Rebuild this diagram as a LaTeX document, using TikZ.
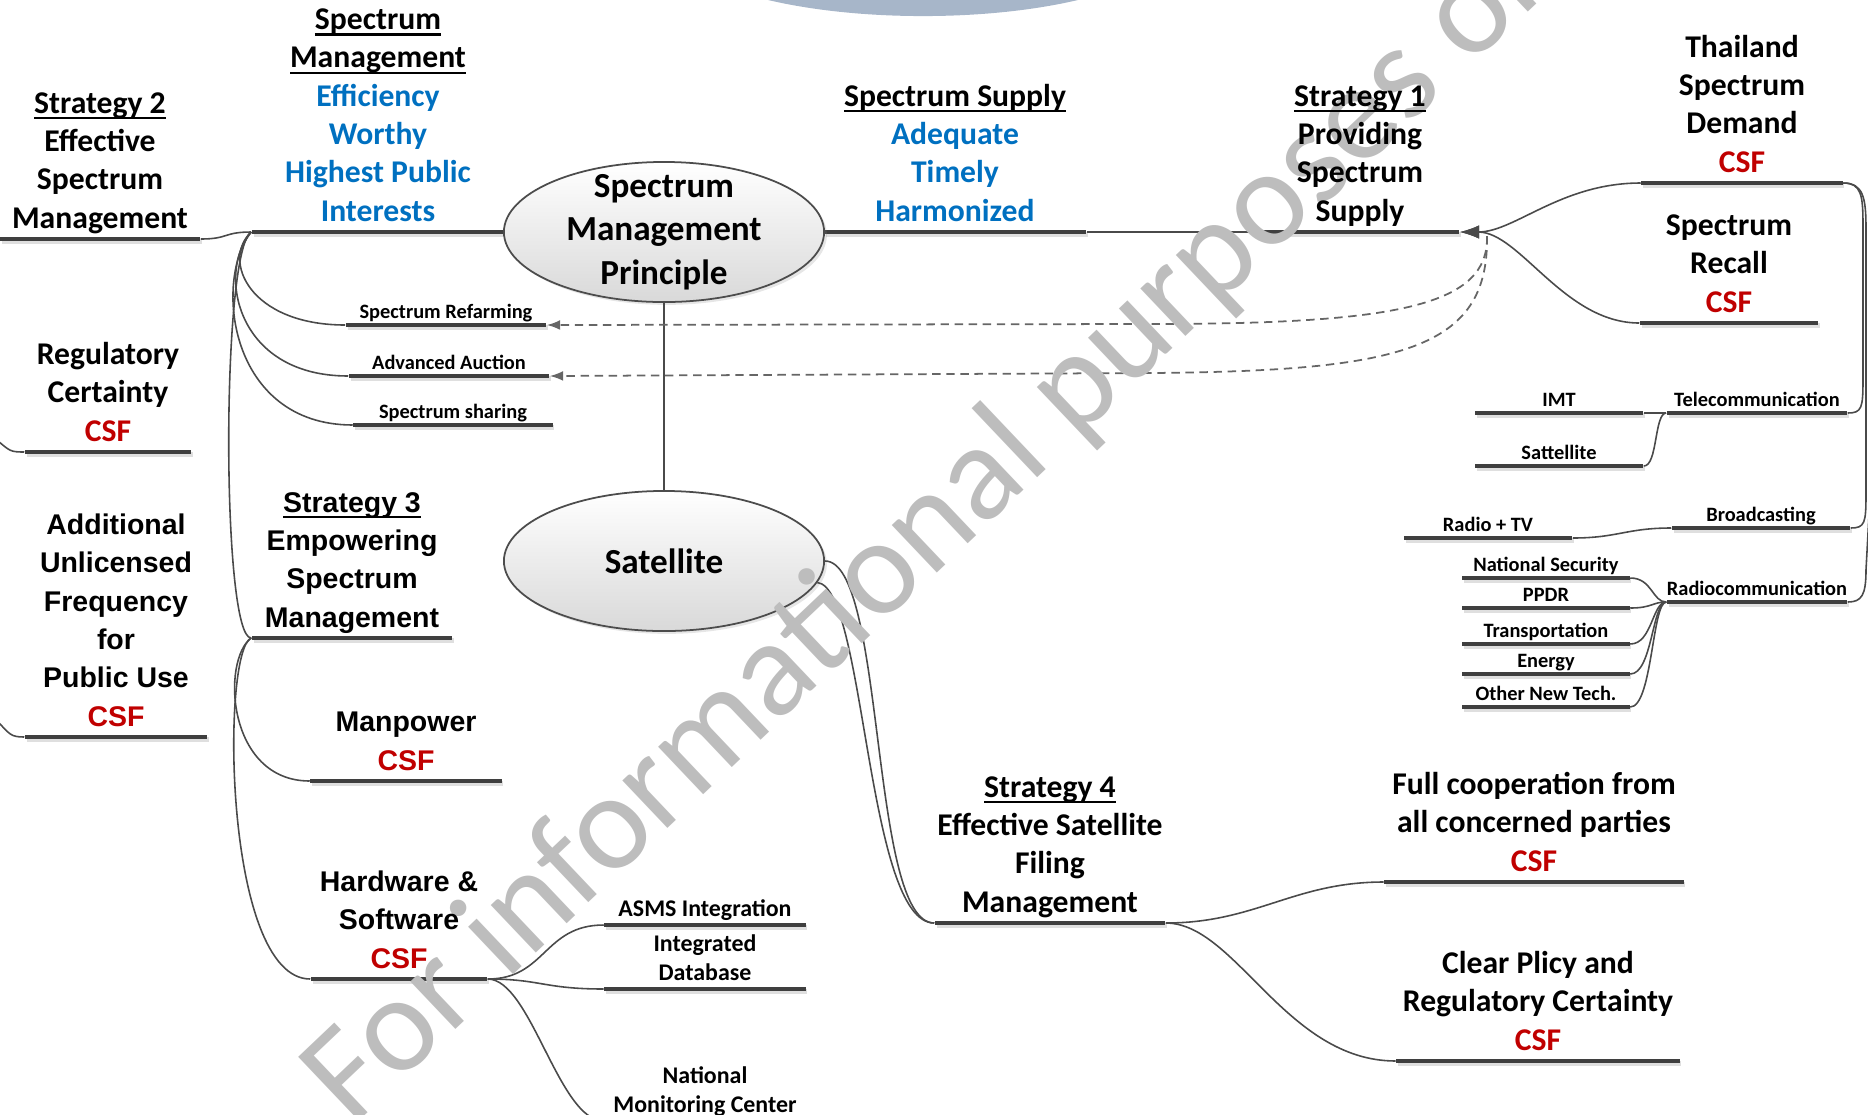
\documentclass[tikz,border=0pt]{standalone}
\usepackage{fontspec}
\setmainfont{Carlito}
\newfontfamily\tahoma{Liberation Sans}
\usetikzlibrary{shapes.geometric}
\usetikzlibrary{positioning}
\usetikzlibrary{arrows.meta}
\usetikzlibrary{shadows}
\usepackage{xcolor}

\definecolor{bargray}{HTML}{3F3F3F}
\definecolor{linegray}{HTML}{4A4A4A}
\definecolor{csfred}{HTML}{C00000}
\definecolor{kpiblue}{HTML}{0070C0}
\definecolor{markgray}{HTML}{BDBDBD}
\definecolor{topblue}{HTML}{A7B6C9}

\newcommand{\ulhead}[1]{\setbox0\hbox{#1}\rlap{\vrule width\wd0 height -1.1pt depth 1.7pt}\box0}
\newcommand{\csf}{\textcolor{csfred}{CSF}}
\newcommand{\kpi}[1]{\textcolor{kpiblue}{#1}}

\tikzset{
    bar/.style={fill=bargray, inner sep=0pt, minimum height=1.4pt,
        drop shadow={shadow xshift=0.5pt, shadow yshift=-0.6pt, opacity=0.25}},
    lbl/.style={font=\bfseries\fontsize{9}{10.9}\selectfont, align=center,
        inner sep=0.6pt, execute at end node=\strut},
    lbltah/.style={lbl, font=\tahoma\bfseries\fontsize{8.1}{10.9}\selectfont},
    lblsmall/.style={lbl, font=\bfseries\fontsize{5.8}{7}\selectfont},
    lblmid/.style={lbl, font=\bfseries\fontsize{6.8}{8.4}\selectfont},
    conn/.style={draw=linegray, line width=0.45pt},
    dashconn/.style={draw=gray!80!black, line width=0.5pt, dash pattern=on 2.4pt off 1.6pt},
    arrtip/.style={-{Latex[length=5.5pt,width=3.8pt]}},
    dtip/.style={-{Latex[length=3.8pt,width=2.8pt]}},
    hub/.style={ellipse, draw=gray!60!black, line width=0.5pt, top color=white,
        bottom color=gray!30, minimum width=3.2cm, minimum height=1.4cm,
        inner xsep=0pt, inner ysep=-3pt, align=center,
        font=\bfseries\fontsize{10}{12.3}\selectfont,
        drop shadow={shadow xshift=0.8pt, shadow yshift=-0.8pt, opacity=0.2}},
    watermark/.style={font=\fontsize{39}{39}\selectfont, text=markgray, inner sep=0pt}
}

\begin{document}
\begin{tikzpicture}[x=0.01cm, y=-0.01cm, node distance=-1.9pt]
    \useasboundingbox (0,0) rectangle (1868,1114);
    \fill[topblue] (923,-60) ellipse [x radius=2.52cm, y radius=0.76cm];

    % bars
    \node[bar, minimum width=2.52cm] (sm)   at (378,232) {};
    \node[bar, minimum width=2.62cm] (ss)   at (955,232) {};
    \node[bar, minimum width=1.98cm] (st1)  at (1360,232) {};
    \node[bar, minimum width=2.01cm] (dem)  at (1742,183) {};
    \node[bar, minimum width=1.78cm] (rec)  at (1729,323) {};
    \node[bar, minimum width=2.00cm] (st2)  at (100,239) {};
    \node[bar, minimum width=1.66cm] (reg)  at (108,452) {};
    \node[bar, minimum width=1.82cm] (addf) at (116,737) {};
    \node[bar, minimum width=2.00cm] (st3)  at (352,638) {};
    \node[bar, minimum width=1.91cm] (man)  at (406,781) {};
    \node[bar, minimum width=1.76cm] (hw)   at (399,979) {};
    \node[bar, minimum width=2.01cm] (asms) at (705,925) {};
    \node[bar, minimum width=2.01cm] (idb)  at (705,989) {};
    \node[bar, minimum width=2.01cm] (nmc)  at (705,1121) {};
    \node[bar, minimum width=2.00cm] (refarm) at (446,325) {};
    \node[bar, minimum width=2.00cm] (auct) at (449,376) {};
    \node[bar, minimum width=1.99cm] (shar) at (453,425) {};
    \node[bar, minimum width=2.30cm] (st4)  at (1050,923) {};
    \node[bar, minimum width=2.99cm] (coop) at (1534,882) {};
    \node[bar, minimum width=2.83cm] (clr)  at (1538,1061) {};
    \node[bar, minimum width=1.68cm] (imt)  at (1559,413) {};
    \node[bar, minimum width=1.68cm] (satl) at (1559,466) {};
    \node[bar, minimum width=1.80cm] (tel)  at (1757,413) {};
    \node[bar, minimum width=1.68cm] (rtv)  at (1488,538) {};
    \node[bar, minimum width=1.78cm] (brd)  at (1761,528) {};
    \node[bar, minimum width=1.80cm] (rad)  at (1757,602) {};

    \node[hub] (smp) at (664,232) {Spectrum\\Management\\Principle};
    \node[hub] (sat) at (664,561) {Satellite};

    \coordinate (jn) at (1487,236);
    \coordinate (offl1) at (-2,441);
    \coordinate (offl2) at (-2,722);
    \coordinate (offr) at (1869,515);

    % connectors
    \draw[conn] (smp) -- (sat);
    \draw[conn] (ss.east) -- (st1.west);
    \draw[conn] (st2.east) .. controls +(28,0) and +(-28,0) .. (sm.west);
    \draw[conn] (sm.west) .. controls +(-30,28) and +(-96,0) .. (refarm.west);
    \draw[conn] (sm.west) .. controls +(-34,38) and +(-114,0) .. (auct.west);
    \draw[conn] (sm.west) .. controls +(-38,48) and +(-124,0) .. (shar.west);
    \draw[conn] (sm.west) .. controls +(-30,18) and +(-30,0) .. (st3.west);
    \draw[conn] (st3.west) .. controls +(-30,22) and +(-83,0) .. (man.west);
    \draw[conn] (st3.west) .. controls +(-30,12) and +(-87,0) .. (hw.west);
    \draw[conn] (hw.east) .. controls +(58,0) and +(-60,0) .. (asms.west);
    \draw[conn] (hw.east) .. controls +(53,0) and +(-60,0) .. (idb.west);
    \draw[conn] (hw.east) .. controls +(43,0) and +(-45,0) .. (nmc.west);
    \draw[conn] (offl1) .. controls +(12,10) and +(-14,0) .. (reg.west);
    \draw[conn] (offl2) .. controls +(12,12) and +(-14,0) .. (addf.west);
    \draw[conn] (sat.east) .. controls +(61,0) and +(-65,0) .. (st4.west);
    \draw[conn] (sat.-8) .. controls +(48,4) and +(-68,0) .. (st4.west);
    \draw[conn] (st4.east) .. controls +(90,0) and +(-90,0) .. (coop.west);
    \draw[conn] (st4.east) .. controls +(70,0) and +(-110,0) .. (clr.west);
    \draw[conn, arrtip] (dem.west) .. controls +(-80,0) and +(55,0) .. (st1.east);
    \draw[conn, arrtip] (rec.west) .. controls +(-75,0) and +(60,0) .. (st1.east);
    \draw[dashconn, dtip] (jn) .. controls (1489,305) and (1400,324) .. (1150,324) -- (refarm.east);
    \draw[dashconn, dtip] (jn) .. controls (1489,350) and (1400,371) .. (1150,373) -- (auct.east);
    \draw[conn] (imt.east) -- (tel.west);
    \draw[conn] (satl.east) .. controls +(14,0) and +(-12,0) .. (tel.west);
    \draw[conn] (rtv.east) .. controls +(45,0) and +(-45,0) .. (brd.west);
    \draw[conn] (dem.east) .. controls +(18,0) and +(0,-30) .. (1863,225)
        -- (1863,380) .. controls +(0,28) and +(14,0) .. (tel.east);
    \draw[conn] (dem.east) .. controls +(20,0) and +(0,-30) .. (1866,228)
        -- (1866,495) .. controls +(0,28) and +(14,0) .. (brd.east);
    \draw[conn] (rad.east) .. controls +(14,0) and +(0,25) .. (1866,570) -- (offr);

    \foreach \n/\y/\t in {nsec/578/{National Security}, ppdr/608/PPDR,
            trn/644/Transportation, ene/674/Energy, oth/707/{Other New Tech.}}{
        \node[bar, minimum width=1.67cm] (\n) at (1546,\y) {};
        \node[lblsmall, above=of \n] {\t};
        \draw[conn] (\n.east) .. controls +(22,0) and +(-14,0) .. (rad.west);
    }

    \node[watermark, rotate=43.5, anchor=base west] (wm) at (352,1128)
        {For informational purposes only};

    % labels
    \node[lbl, above=of sm] (smt) {\ulhead{Spectrum}\\\ulhead{Management}\\
        \kpi{Efficiency}\\\kpi{Worthy}\\\kpi{Highest Public}\\\kpi{Interests}};
    \node[lbl, above=of ss] (sst) {\ulhead{Spectrum Supply}\\\kpi{Adequate}\\
        \kpi{Timely}\\\kpi{Harmonized}};
    \node[lbl, above=of st1] (st1t) {\ulhead{Strategy 1}\\Providing\\Spectrum\\Supply};
    \node[lbl, above=of dem] (demt) {Thailand\\Spectrum\\Demand\\\csf};
    \node[lbl, above=of rec] (rect) {Spectrum\\Recall\\\csf};
    \node[lbl, above=of st2] (st2t) {\ulhead{Strategy 2}\\Effective\\Spectrum\\Management};
    \node[lbl, above=of reg] (regt) {Regulatory\\Certainty\\\csf};
    \node[lbltah, above=of addf] (addft) {Additional\\Unlicensed\\Frequency\\for\\Public Use\\\csf};
    \node[lbltah, above=of st3] (st3t) {\ulhead{Strategy 3}\\Empowering\\Spectrum\\Management};
    \node[lbltah, above=of man] (mant) {Manpower\\\csf};
    \node[lbltah, above=of hw] (hwt) {Hardware \&\\Software\\\csf};
    \node[lblmid, above=of asms] (asmst) {ASMS Integration};
    \node[lblmid, above=of idb] (idbt) {Integrated\\Database};
    \node[lblmid, above=of nmc] (nmct) {National\\Monitoring Center};
    \node[lblsmall, above=of refarm] (refarmt) {Spectrum Refarming};
    \node[lblsmall, above=of auct] (auctt) {Advanced Auction};
    \node[lblsmall, above=of shar] (shart) {Spectrum sharing};
    \node[lbl, above=of st4] (st4t) {\ulhead{Strategy 4}\\Effective Satellite\\Filing\\Management};
    \node[lbl, above=of coop] (coopt) {Full cooperation from\\all concerned parties\\\csf};
    \node[lbl, above=of clr] (clrt) {Clear Plicy and\\Regulatory Certainty\\\csf};
    \node[lblsmall, above=of imt] (imtt) {IMT};
    \node[lblsmall, above=of satl] (satlt) {Sattellite};
    \node[lblsmall, above=of tel] (telt) {Telecommunication};
    \node[lblsmall, above=of rtv] (rtvt) {Radio + TV};
    \node[lblsmall, above=of brd] (brdt) {Broadcasting};
    \node[lblsmall, above=of rad] (radt) {Radiocommunication};
\end{tikzpicture}
\end{document}
